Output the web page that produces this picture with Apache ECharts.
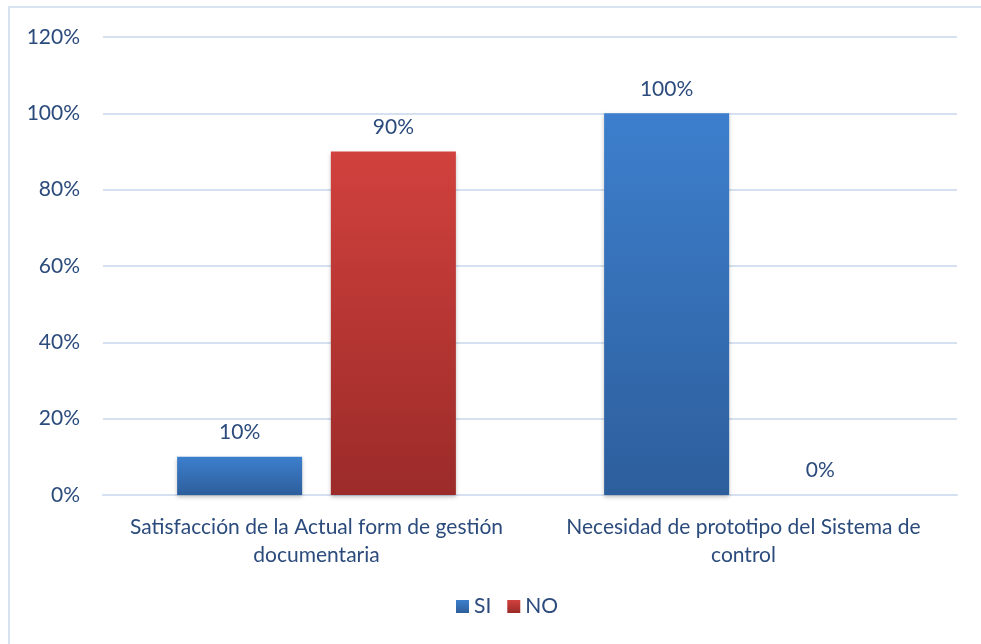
<!DOCTYPE html>
<html><head><meta charset="utf-8">
<script src="https://cdn.jsdelivr.net/npm/echarts@6/dist/echarts.min.js"></script>
<style>html,body{margin:0;padding:0;background:#fff}#c{width:981px;height:644px}</style>
</head><body><div id="c"></div>
<script>
const categories = ['Satisfacción de la Actual form de gestión\ndocumentaria', 'Necesidad de prototipo del Sistema de\ncontrol'];
const seriesNames = ['SI', 'NO'];
const siValues = [10, 100];
const noValues = [90, 0];
const yTicks = [0, 20, 40, 60, 80, 100, 120];

const txt = '#2b4b7c';
const font = 'Lato';
const fs = 21;
function grad(top, bottom){
  return new echarts.graphic.LinearGradient(0,0,0,1,[{offset:0,color:top},{offset:1,color:bottom}]);
}
const chart = echarts.init(document.getElementById('c'));
chart.setOption({
  animation:false,
  textStyle:{fontFamily:font},
  graphic:[{type:'rect',shape:{x:9,y:7,width:990,height:660},style:{fill:null,stroke:'#d8e3f1',lineWidth:2},silent:true}],
  grid:{left:103,right:24,top:37,bottom:149},
  legend:{bottom:22,left:451,itemWidth:13,itemHeight:13,itemGap:16,icon:'rect',
    textStyle:{color:txt,fontSize:fs,fontFamily:font},data:seriesNames},
  xAxis:{type:'category',data:categories,
    axisLine:{lineStyle:{color:'#d5e0f0',width:2}},axisTick:{show:false},
    axisLabel:{interval:0,hideOverlap:false,color:txt,fontSize:fs,lineHeight:28,margin:18,fontFamily:font}},
  yAxis:{type:'value',min:yTicks[0],max:yTicks[yTicks.length-1],interval:20,
    axisLabel:{color:txt,fontSize:fs,margin:23,formatter:v=>v+'%',fontFamily:font},
    splitLine:{lineStyle:{color:'#d5e0f0',width:2}},axisLine:{show:false},axisTick:{show:false}},
  series:[
    {name:'SI',type:'bar',data:siValues,barWidth:125,barGap:'23%',
      itemStyle:{color:grad('#3d7fcd','#2d5e9c'),shadowColor:'rgba(0,0,0,0.25)',shadowBlur:4,shadowOffsetY:2},
      label:{show:true,position:'top',distance:14,color:txt,fontSize:fs,formatter:p=>p.value+'%',fontFamily:font}},
    {name:'NO',type:'bar',data:noValues,barWidth:125,
      itemStyle:{color:grad('#d1413d','#9b2b29'),shadowColor:'rgba(0,0,0,0.25)',shadowBlur:4,shadowOffsetY:2},
      label:{show:true,position:'top',distance:14,color:txt,fontSize:fs,formatter:p=>p.value+'%',fontFamily:font}}
  ]
});
</script></body></html>
